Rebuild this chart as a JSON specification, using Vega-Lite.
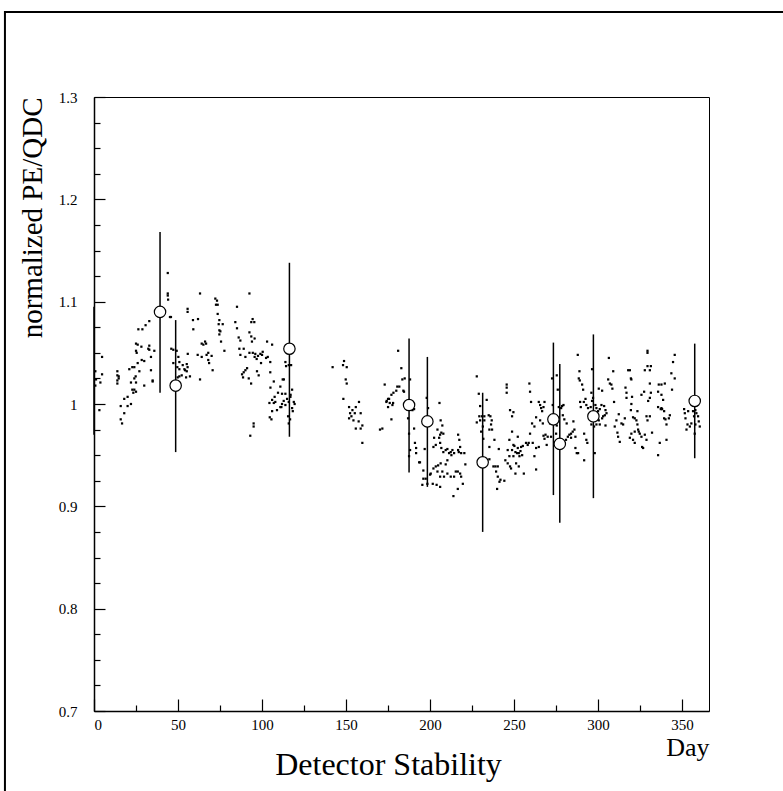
{
"$schema":"https://vega.github.io/schema/vega-lite/v6.json",
"width":615,"height":614,
"autosize":"none",
"padding":{"left":94,"top":97,"right":74,"bottom":80},
"background":"white",
"config":{"view":{"stroke":"black","strokeWidth":1},"font":"Liberation Serif"},
"title":{"text":"Detector Stability","orient":"bottom","anchor":"middle","fontSize":32,"font":"Liberation Serif","fontWeight":"normal","color":"black","offset":0,"dx":-13,"dy":-44},
"resolve":{"axis":{"x":"independent","y":"independent"}},
"datasets":{
"dots":[
{"d":43.9,"v":1.128},{"d":43.9,"v":1.108},{"d":43.9,"v":1.106},{"d":44.1,"v":1.102},{"d":63.1,"v":1.108},{"d":55.7,"v":1.093},{"d":55.7,"v":1.09},{"d":45.2,"v":1.085},{"d":45.8,"v":1.085},{"d":58.9,"v":1.082},{"d":61.9,"v":1.083},{"d":59.1,"v":1.073},{"d":32.9,"v":1.081},{"d":30.7,"v":1.077},{"d":28.8,"v":1.073},{"d":26.4,"v":1.073},{"d":25,"v":1.059},{"d":26,"v":1.058},{"d":28.2,"v":1.056},{"d":25,"v":1.052},{"d":25.4,"v":1.05},{"d":32.3,"v":1.054},{"d":32.9,"v":1.053},{"d":35.9,"v":1.052},{"d":32.9,"v":1.057},{"d":33.9,"v":1.046},{"d":28.4,"v":1.043},{"d":29.9,"v":1.042},{"d":26,"v":1.04},{"d":22.8,"v":1.036},{"d":21,"v":1.034},{"d":24,"v":1.036},{"d":33.9,"v":1.033},{"d":27,"v":1.032},{"d":24.8,"v":1.027},{"d":24,"v":1.025},{"d":34.9,"v":1.023},{"d":34.9,"v":1.022},{"d":22,"v":1.021},{"d":25,"v":1.021},{"d":29.9,"v":1.018},{"d":22.8,"v":1.014},{"d":24,"v":1.014},{"d":25,"v":1.012},{"d":23.4,"v":1.011},{"d":20,"v":1.007},{"d":18,"v":1.005},{"d":20,"v":0.998},{"d":15.9,"v":0.998},{"d":18,"v":0.991},{"d":22,"v":1.0},{"d":15.9,"v":0.985},{"d":16.7,"v":0.981},{"d":13.9,"v":1.032},{"d":13.9,"v":1.028},{"d":14.7,"v":1.027},{"d":13.9,"v":1.023},{"d":14.7,"v":1.025},{"d":13.9,"v":1.02},{"d":4.8,"v":1.046},{"d":4.8,"v":1.029},{"d":3.8,"v":1.021},{"d":0.8,"v":1.032},{"d":1.2,"v":1.024},{"d":0.8,"v":1.018},{"d":3.2,"v":0.994},{"d":46,"v":1.054},{"d":47.2,"v":1.053},{"d":49.2,"v":1.052},{"d":47.2,"v":1.04},{"d":50.2,"v":1.046},{"d":50.8,"v":1.041},{"d":49.6,"v":1.036},{"d":50.8,"v":1.034},{"d":52.8,"v":1.038},{"d":55.2,"v":1.039},{"d":55.7,"v":1.036},{"d":53.8,"v":1.034},{"d":54.2,"v":1.033},{"d":55.2,"v":1.032},{"d":52.2,"v":1.028},{"d":50.8,"v":1.027},{"d":54.8,"v":1.026},{"d":57.1,"v":1.027},{"d":49.8,"v":1.026},{"d":63.1,"v":1.024},{"d":55.8,"v":1.049},{"d":61.7,"v":1.048},{"d":64.1,"v":1.046},{"d":66.1,"v":1.061},{"d":66.7,"v":1.059},{"d":65.1,"v":1.058},{"d":64.1,"v":1.059},{"d":68,"v":1.05},{"d":67,"v":1.048},{"d":70,"v":1.047},{"d":68,"v":1.043},{"d":68.5,"v":1.04},{"d":70.6,"v":1.033},
{"d":92.5,"v":1.108},{"d":72.2,"v":1.103},{"d":73.2,"v":1.101},{"d":72.6,"v":1.097},{"d":73.6,"v":1.097},{"d":85.1,"v":1.095},{"d":73.6,"v":1.088},{"d":74.6,"v":1.082},{"d":74.2,"v":1.078},{"d":76.6,"v":1.078},{"d":74.6,"v":1.072},{"d":75.2,"v":1.071},{"d":74.6,"v":1.068},{"d":75.6,"v":1.061},{"d":77.6,"v":1.052},{"d":84.1,"v":1.08},{"d":85.1,"v":1.074},{"d":94.4,"v":1.083},{"d":93.6,"v":1.08},{"d":95.4,"v":1.08},{"d":92.5,"v":1.07},{"d":93.6,"v":1.066},{"d":95.6,"v":1.064},{"d":94,"v":1.061},{"d":86.1,"v":1.065},{"d":87.1,"v":1.062},{"d":103,"v":1.061},{"d":106,"v":1.058},{"d":86.5,"v":1.054},{"d":89.1,"v":1.054},{"d":87.1,"v":1.048},{"d":90.1,"v":1.046},{"d":92.5,"v":1.05},{"d":94.5,"v":1.05},{"d":96,"v":1.049},{"d":95.6,"v":1.046},{"d":96.8,"v":1.044},{"d":97.6,"v":1.047},{"d":99,"v":1.049},{"d":100.4,"v":1.051},{"d":100,"v":1.048},{"d":102.4,"v":1.045},{"d":103.4,"v":1.046},{"d":104.9,"v":1.041},{"d":99.4,"v":1.04},{"d":91.1,"v":1.035},{"d":90.1,"v":1.033},{"d":89.1,"v":1.031},{"d":88.1,"v":1.029},{"d":88.7,"v":1.026},{"d":92.1,"v":1.025},{"d":93.5,"v":1.02},{"d":97,"v":1.032},{"d":98,"v":1.028},{"d":104.9,"v":1.031},{"d":107,"v":1.022},{"d":112.3,"v":1.024},{"d":113,"v":1.024},{"d":105,"v":1.016},{"d":110.9,"v":1.017},{"d":109.5,"v":1.011},{"d":111.9,"v":1.01},{"d":107.5,"v":1.007},{"d":106,"v":1.004},{"d":107,"v":1.001},{"d":104.4,"v":1.001},{"d":107.9,"v":1.002},{"d":113.9,"v":1.01},{"d":114.9,"v":1.005},{"d":112.9,"v":1.003},{"d":111.9,"v":1.0},{"d":113.9,"v":0.999},{"d":110.9,"v":0.997},{"d":111.5,"v":0.997},{"d":116.9,"v":1.007},{"d":115.9,"v":1.002},{"d":118.9,"v":1.002},{"d":119.4,"v":1.0},{"d":117,"v":1.009},{"d":117.9,"v":0.996},{"d":118.3,"v":0.993},{"d":108.9,"v":0.994},{"d":106,"v":0.993},{"d":104.6,"v":0.987},{"d":105.6,"v":0.985},{"d":115.5,"v":0.988},{"d":116.7,"v":0.985},{"d":115.9,"v":0.981},{"d":117.9,"v":1.014},{"d":115.9,"v":1.038},{"d":113.9,"v":1.041},{"d":114.3,"v":1.037},{"d":117.3,"v":1.038},{"d":95,"v":0.981},{"d":95,"v":0.978},{"d":93,"v":0.969},{"d":142,"v":1.036},
{"d":148.8,"v":1.042},{"d":148.2,"v":1.038},{"d":150.4,"v":1.036},{"d":149.8,"v":1.024},{"d":150.4,"v":1.02},{"d":148.4,"v":1.005},{"d":151.8,"v":0.997},{"d":153.8,"v":0.994},{"d":152.4,"v":0.991},{"d":153.2,"v":0.988},{"d":151.8,"v":0.986},{"d":154.4,"v":0.984},{"d":155.8,"v":0.997},{"d":157.7,"v":1.002},{"d":155.2,"v":0.991},{"d":158.7,"v":0.991},{"d":157.5,"v":0.983},{"d":159.7,"v":0.979},{"d":158.7,"v":0.976},{"d":155.8,"v":0.976},{"d":159.7,"v":0.962},{"d":170.2,"v":0.975},{"d":171.6,"v":0.976},{"d":173,"v":1.019},{"d":181,"v":1.052},{"d":182.9,"v":1.035},{"d":184.9,"v":1.025},{"d":183.5,"v":1.024},{"d":181.7,"v":1.017},{"d":180.5,"v":1.017},{"d":179.9,"v":1.013},{"d":178.2,"v":1.011},{"d":177,"v":1.009},{"d":175,"v":1.005},{"d":174.2,"v":1.003},{"d":174,"v":1.002},{"d":175.6,"v":1.005},{"d":176,"v":1.001},{"d":175,"v":0.997},{"d":178,"v":1.001},{"d":177.6,"v":0.999},{"d":177,"v":0.985},{"d":184.5,"v":1.012},{"d":184.1,"v":1.013},{"d":188.1,"v":1.024},{"d":190.5,"v":0.995},{"d":188.9,"v":0.999},{"d":189.5,"v":0.994},{"d":186.9,"v":0.986},{"d":187.5,"v":0.971},{"d":190.5,"v":0.976},{"d":187.5,"v":0.949},{"d":188.1,"v":0.955},{"d":191.7,"v":0.957},{"d":191.7,"v":0.952},{"d":193.5,"v":0.943},{"d":194,"v":0.943},{"d":191,"v":0.962},{"d":196.8,"v":0.956},{"d":198,"v":1.006},{"d":198.8,"v":0.996},{"d":205.6,"v":1.001},
{"d":206.3,"v":0.984},{"d":207.3,"v":0.979},{"d":204.4,"v":0.975},{"d":206.7,"v":0.972},{"d":206,"v":0.97},{"d":207.9,"v":0.971},{"d":205.4,"v":0.967},{"d":202.4,"v":0.967},{"d":202,"v":0.958},{"d":203.4,"v":0.96},{"d":206,"v":0.962},{"d":206.7,"v":0.957},{"d":209.3,"v":0.955},{"d":207.9,"v":0.953},{"d":210.3,"v":0.956},{"d":212.3,"v":0.953},{"d":213.3,"v":0.955},{"d":212.7,"v":0.95},{"d":211.3,"v":0.952},{"d":214.3,"v":0.952},{"d":210.3,"v":0.945},{"d":209.3,"v":0.941},{"d":206.3,"v":0.942},{"d":204.8,"v":0.94},{"d":203.4,"v":0.939},{"d":202,"v":0.937},{"d":204.4,"v":0.934},{"d":207.3,"v":0.934},{"d":206,"v":0.929},{"d":208.3,"v":0.929},{"d":210.3,"v":0.932},{"d":212.3,"v":0.929},{"d":214.3,"v":0.929},{"d":215.3,"v":0.934},{"d":216.7,"v":0.955},{"d":216.7,"v":0.97},{"d":213.9,"v":0.91},{"d":196,"v":0.935},{"d":197.4,"v":0.927},{"d":200.4,"v":0.932},{"d":200,"v":0.931},{"d":198.4,"v":0.922},{"d":195.4,"v":0.921},{"d":201.6,"v":0.922},{"d":203.9,"v":0.921},{"d":206,"v":0.919},{"d":196,"v":0.927},
{"d":217.4,"v":0.965},{"d":217.9,"v":0.958},{"d":217.1,"v":0.953},{"d":218.5,"v":0.952},{"d":220.4,"v":0.952},{"d":221,"v":0.941},{"d":216.5,"v":0.934},{"d":217.9,"v":0.932},{"d":218.5,"v":0.929},{"d":219.5,"v":0.922},{"d":216.5,"v":0.917},{"d":227.8,"v":1.027},{"d":229,"v":1.01},{"d":229.8,"v":0.998},{"d":229.3,"v":0.988},{"d":230.9,"v":0.988},{"d":232.3,"v":0.988},{"d":229.8,"v":0.984},{"d":232.3,"v":0.984},{"d":231.4,"v":0.978},{"d":230.4,"v":0.973},{"d":231.7,"v":0.966},{"d":227.8,"v":0.982},{"d":233.7,"v":1.004},{"d":234.9,"v":0.989},{"d":235.9,"v":0.988},{"d":236.7,"v":0.984},{"d":236.3,"v":0.98},{"d":235.3,"v":0.975},{"d":236.9,"v":0.975},{"d":238.3,"v":0.965},{"d":235.3,"v":0.958},{"d":235.3,"v":0.946},{"d":237.7,"v":0.939},{"d":238.9,"v":0.939},{"d":240.3,"v":0.939},{"d":239.3,"v":0.934},{"d":240.3,"v":0.929},{"d":241.9,"v":0.926},{"d":241.3,"v":0.924},{"d":244.2,"v":0.925},{"d":239.9,"v":0.917},{"d":240.9,"v":0.956},{"d":245.6,"v":1.019},{"d":245.6,"v":1.016},{"d":245.6,"v":1.011},{"d":247.6,"v":0.994},{"d":248.8,"v":0.988},{"d":249.6,"v":0.992},{"d":248.8,"v":0.973},{"d":247.2,"v":0.965},{"d":244.8,"v":0.945},{"d":246.2,"v":0.942},{"d":247.6,"v":0.939},{"d":248.2,"v":0.937},{"d":251.2,"v":0.942},{"d":249.6,"v":0.949},{"d":250.8,"v":0.953},{"d":251.8,"v":0.952},{"d":252.8,"v":0.952},{"d":252.2,"v":0.957},{"d":253.8,"v":0.954},{"d":254.2,"v":0.958},{"d":252.2,"v":0.968},{"d":255.2,"v":0.959},{"d":254.8,"v":0.95},{"d":255.8,"v":0.932},{"d":250.8,"v":0.932},{"d":252.8,"v":0.939},{"d":253.2,"v":0.949},{"d":247.2,"v":0.949},{"d":248.8,"v":0.955},{"d":250.2,"v":0.959},{"d":249.6,"v":0.96},{"d":246.2,"v":0.955},
{"d":259.1,"v":1.02},{"d":259.5,"v":1.012},{"d":260.1,"v":1.002},{"d":263.1,"v":0.987},{"d":262.1,"v":0.978},{"d":259.5,"v":0.971},{"d":257.1,"v":0.962},{"d":258.1,"v":0.96},{"d":258.7,"v":0.962},{"d":261.1,"v":0.962},{"d":263.1,"v":0.957},{"d":264.7,"v":0.958},{"d":263.1,"v":0.936},{"d":262.1,"v":0.949},{"d":260.7,"v":0.981},{"d":264.7,"v":1.002},{"d":265.5,"v":0.999},{"d":266.1,"v":0.996},{"d":266.7,"v":0.993},{"d":267.5,"v":0.997},{"d":268.1,"v":1.002},{"d":265.5,"v":0.984},{"d":267.1,"v":0.981},{"d":267.5,"v":0.969},{"d":268.1,"v":0.966},{"d":268.7,"v":0.97},{"d":269.4,"v":0.96},{"d":270,"v":0.968},{"d":271.4,"v":0.981},{"d":272,"v":0.968},{"d":275,"v":0.971},{"d":275.4,"v":0.979},{"d":276,"v":0.984},{"d":273,"v":0.999},{"d":272.6,"v":1.025},{"d":275.4,"v":1.028},{"d":276,"v":1.014},{"d":276.6,"v":0.997},{"d":278,"v":0.996},{"d":278.6,"v":0.998},{"d":279.4,"v":0.999},{"d":279,"v":0.989},{"d":279.9,"v":0.985},{"d":281.3,"v":0.981},{"d":282.9,"v":0.97},{"d":283.9,"v":0.971},{"d":284.9,"v":0.973},{"d":285.9,"v":0.975},{"d":286.5,"v":0.968},{"d":285.3,"v":0.983},{"d":287.9,"v":1.048},{"d":288.9,"v":1.032},{"d":288.5,"v":1.025},{"d":289.3,"v":1.002},{"d":286.5,"v":0.957},{"d":287.3,"v":0.952},{"d":280.9,"v":0.965},{"d":282,"v":0.968},{"d":283.9,"v":0.967},
{"d":289.1,"v":1.023},{"d":290.5,"v":1.019},{"d":291.1,"v":1.014},{"d":292.5,"v":1.005},{"d":291.5,"v":1.002},{"d":289.7,"v":0.997},{"d":293,"v":0.999},{"d":294,"v":0.996},{"d":295.6,"v":0.997},{"d":296.4,"v":1.003},{"d":297,"v":1.006},{"d":296.4,"v":1.034},{"d":296,"v":1.011},{"d":298.4,"v":0.999},{"d":299,"v":0.996},{"d":301,"v":0.995},{"d":300,"v":0.993},{"d":302,"v":0.999},{"d":303.6,"v":0.998},{"d":304.4,"v":0.994},{"d":305,"v":0.991},{"d":302.4,"v":0.986},{"d":300.4,"v":0.984},{"d":303,"v":0.988},{"d":304,"v":0.989},{"d":296,"v":0.98},{"d":297.6,"v":0.978},{"d":299,"v":0.98},{"d":301,"v":0.98},{"d":304.4,"v":0.979},{"d":291.7,"v":0.971},{"d":293,"v":0.965},{"d":293.6,"v":0.962},{"d":291.7,"v":0.945},{"d":298,"v":0.952},{"d":288.1,"v":0.952},{"d":300.4,"v":1.015},{"d":302.4,"v":1.013},{"d":306,"v":1.024},{"d":307,"v":1.02},{"d":307.9,"v":1.019},{"d":308.5,"v":1.015},{"d":306.4,"v":1.045},{"d":309,"v":1.032},{"d":309.5,"v":1.002},{"d":312.3,"v":0.99},{"d":310.9,"v":0.984},{"d":309.9,"v":0.978},{"d":313.9,"v":0.981},{"d":314.9,"v":0.98},{"d":311.5,"v":0.972},{"d":311.9,"v":0.968},{"d":312.9,"v":0.963},{"d":315.9,"v":0.986},{"d":316.9,"v":1.006},{"d":316.3,"v":1.016},{"d":316.9,"v":1.011},{"d":317.9,"v":1.033},{"d":318.9,"v":1.033},{"d":319.5,"v":1.025},{"d":319.8,"v":1.024},{"d":320.2,"v":1.007},{"d":319.8,"v":1.0},{"d":319.5,"v":0.994},{"d":320.8,"v":0.987},{"d":321.8,"v":0.986},{"d":322.8,"v":0.984},{"d":323.4,"v":0.98},{"d":321.8,"v":0.973},{"d":319.8,"v":0.971},{"d":318.9,"v":0.967},{"d":320.8,"v":0.965},{"d":321.8,"v":0.962},{"d":323.8,"v":0.975},{"d":324.2,"v":0.973},{"d":325.8,"v":0.968},{"d":326.2,"v":0.958},{"d":326.8,"v":0.957},{"d":328.8,"v":0.965},{"d":327.8,"v":0.97},{"d":324.8,"v":0.971},{"d":323.4,"v":0.993},{"d":325.8,"v":1.009},{"d":327.4,"v":1.012},{"d":329.8,"v":1.003},{"d":330.8,"v":1.006},{"d":331.4,"v":1.011},{"d":330.8,"v":1.02},{"d":328.8,"v":0.988},{"d":329.4,"v":0.984},{"d":330.8,"v":0.988},{"d":332.1,"v":0.972},{"d":335.7,"v":0.95},{"d":336.7,"v":0.962},{"d":340.7,"v":0.965},{"d":340.7,"v":0.98},{"d":339.3,"v":0.986},{"d":339.3,"v":0.993},{"d":340.1,"v":0.985},{"d":342.1,"v":0.986},{"d":342.7,"v":0.989},{"d":337.7,"v":0.996},{"d":335.7,"v":0.997},{"d":337.3,"v":0.995},{"d":338.1,"v":0.995},{"d":338.7,"v":1.004},{"d":337.7,"v":1.009},{"d":335.7,"v":1.012},{"d":336.1,"v":1.019},{"d":337.7,"v":1.019},{"d":339.7,"v":1.02},{"d":330.8,"v":1.033},{"d":327.8,"v":1.033},{"d":329.4,"v":1.037},{"d":331.4,"v":1.037},{"d":329.4,"v":1.052},{"d":329.4,"v":1.05},{"d":344,"v":1.014},{"d":344.6,"v":1.041},{"d":345.6,"v":1.048},{"d":343.6,"v":1.03},{"d":345.6,"v":1.025},
{"d":351.2,"v":0.995},{"d":351.6,"v":0.991},{"d":353.6,"v":0.993},{"d":352,"v":0.986},{"d":353.2,"v":0.98},{"d":354.6,"v":0.978},{"d":352.6,"v":0.975},{"d":355.5,"v":0.981},{"d":356.5,"v":0.993},{"d":357.9,"v":0.994},{"d":358.5,"v":0.991},{"d":357.1,"v":0.988},{"d":359.5,"v":0.988},{"d":359.9,"v":0.983},{"d":360.5,"v":0.978},{"d":357.5,"v":0.971},{"d":357.9,"v":0.98}
],
"err":[
{"d":0,"v":null,"lo":0.97,"hi":1.095},
{"d":39.3,"v":1.09,"lo":1.011,"hi":1.168},
{"d":48.6,"v":1.018,"lo":0.953,"hi":1.082},
{"d":116.3,"v":1.054,"lo":0.968,"hi":1.138},
{"d":187.5,"v":0.999,"lo":0.933,"hi":1.064},
{"d":198.4,"v":0.983,"lo":0.919,"hi":1.046},
{"d":231.3,"v":0.943,"lo":0.875,"hi":1.011},
{"d":273.4,"v":0.985,"lo":0.911,"hi":1.06},
{"d":277.2,"v":0.961,"lo":0.884,"hi":1.039},
{"d":297.2,"v":0.988,"lo":0.908,"hi":1.068},
{"d":357.5,"v":1.003,"lo":0.947,"hi":1.059}
],
"frame":[{"x1":-53,"x2":450,"y1":1.383,"y2":0.62}]
},
"layer":[
{"data":{"name":"dots"},
 "mark":{"type":"square","size":5,"filled":true,"color":"black","opacity":1},
 "encoding":{
  "x":{"field":"d","type":"quantitative","scale":{"domain":[0,366],"nice":false,"zero":false},
   "axis":{"orient":"bottom","values":[0,50,100,150,200,250,300,350],"format":"d",
    "tickSize":-12,
    "tickColor":"black","tickWidth":1.2,"domainColor":"black","domainWidth":1.5,"grid":false,
    "labelFont":"Liberation Serif","labelFontSize":15,"labelColor":"black","labelPadding":18,
    "title":"Day","titleFont":"Liberation Serif","titleFontSize":26,"titleFontWeight":"normal","titleColor":"black",
    "titleAnchor":"end","titleAlign":"right","titleX":615,"titleY":44,"titleBaseline":"alphabetic"}},
  "y":{"field":"v","type":"quantitative","scale":{"domain":[0.7,1.3],"nice":false,"zero":false},
   "axis":{"orient":"left","values":[0.7,0.8,0.9,1.0,1.1,1.2,1.3],
    "labelExpr":"abs(datum.value-1) < 0.001 ? '1' : format(datum.value, '.1f')",
    "tickSize":-11,
    "tickColor":"black","tickWidth":1.2,"domainColor":"black","domainWidth":1.5,"grid":false,
    "labelFont":"Liberation Serif","labelFontSize":15,"labelColor":"black","labelPadding":28,
    "title":"normalized PE/QDC","titleFont":"Liberation Serif","titleFontSize":29,"titleFontWeight":"normal","titleColor":"black",
    "titleAngle":-90,"titleX":-62,"titleY":0,"titleAlign":"right","titleBaseline":"middle"}}
 }},
{"data":{"name":"frame"},
 "mark":{"type":"rect","filled":false,"stroke":"black","strokeWidth":2},
 "encoding":{"x":{"field":"x1","type":"quantitative","axis":null},"x2":{"field":"x2"},"y":{"field":"y1","type":"quantitative","axis":null},"y2":{"field":"y2"}}},
{"data":{"name":"err"},
 "mark":{"type":"rule","color":"black","strokeWidth":1.5},
 "encoding":{
  "x":{"field":"d","type":"quantitative",
   "axis":{"orient":"bottom","values":[25,75,125,175,225,275,325],"tickSize":-6,"tickColor":"black","tickWidth":1.2,"labels":false,"domain":false,"grid":false,"title":null}},
  "y":{"field":"lo","type":"quantitative",
   "axis":{"orient":"left","values":[0.725,0.75,0.775,0.825,0.85,0.875,0.925,0.95,0.975,1.025,1.05,1.075,1.125,1.15,1.175,1.225,1.25,1.275],"tickSize":-6,"tickColor":"black","tickWidth":1.2,"labels":false,"domain":false,"grid":false,"title":null}},
  "y2":{"field":"hi"}}},
{"data":{"name":"err"},
 "mark":{"type":"point","shape":"circle","size":130,"filled":true,"fill":"white","stroke":"black","strokeWidth":1.2,"opacity":1},
 "encoding":{"x":{"field":"d","type":"quantitative","axis":null},"y":{"field":"v","type":"quantitative","axis":null}}}
]
}
